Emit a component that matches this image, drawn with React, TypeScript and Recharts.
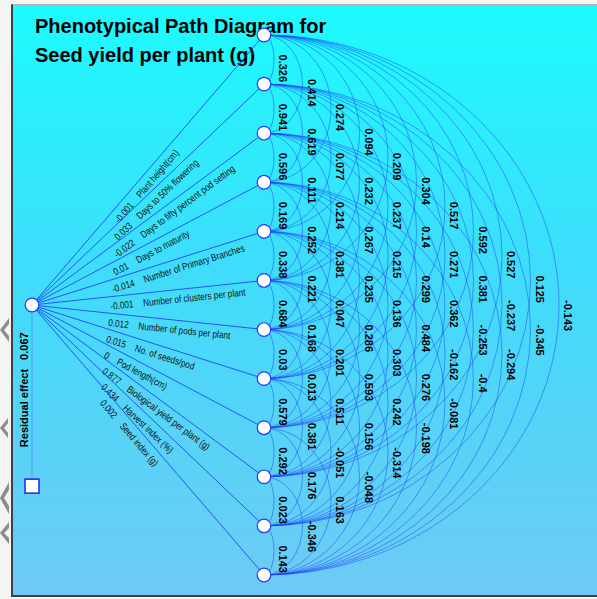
import React from 'react';
import { ScatterChart, Scatter, XAxis, YAxis, ReferenceLine } from 'recharts';

// ---------- data ----------
const traits = [
  'Plant height(cm)',
  'Days to 50% flowering',
  'Days to fifty percent pod setting',
  'Days to maturity',
  'Number of Primary Branches',
  'Number of clusters per plant',
  'Number of pods per plant',
  'No. of seeds/pod',
  'Pod length(cm)',
  'Biological yield per plant (g)',
  'Harvest index (%)',
  'Seed index (g)',
];

// direct effects on seed yield per plant
const directEffects = [-0.001, 0.033, -0.022, 0.01, -0.014, -0.001, 0.012, 0.015, 0, 0.877, 0.434, 0.002];

// upper-triangle correlations: row i holds r(i, j) for j > i
const corrRow1 = [0.326, 0.414, 0.274, 0.094, 0.209, 0.304, 0.517, 0.592, 0.527, 0.125, -0.143];
const corrRow2 = [0.941, 0.619, 0.077, 0.232, 0.237, 0.14, 0.271, 0.381, -0.237, -0.345];
const corrRow3 = [0.596, 0.111, 0.214, 0.267, 0.215, 0.299, 0.362, -0.253, -0.294];
const corrRow4 = [0.169, 0.252, 0.381, 0.235, 0.136, 0.484, -0.162, -0.4];
const corrRow5 = [0.338, 0.221, 0.047, 0.286, 0.303, 0.276, -0.081];
const corrRow6 = [0.684, 0.168, 0.201, 0.593, 0.242, -0.198];
const corrRow7 = [0.03, 0.013, 0.511, 0.156, -0.314];
const corrRow8 = [0.579, 0.381, -0.051, -0.048];
const corrRow9 = [0.292, 0.176, 0.163];
const corrRow10 = [0.023, -0.346];
const corrRow11 = [0.143];
const corrRows = [corrRow1, corrRow2, corrRow3, corrRow4, corrRow5, corrRow6, corrRow7, corrRow8, corrRow9, corrRow10, corrRow11];

const residualEffect = 0.067;
const titleLines = ['Phenotypical Path Diagram for', 'Seed yield per plant (g)'];

// ---------- layout ----------
const W = 597;
const H = 599;
const PX_PER_X = 232; // one x unit = distance source -> node column
const X_MAX = 565 / PX_PER_X;
const SRC_X = 0;
const NODE_X = 1;
const SRC_Y = 5.5;
const SQUARE_Y = 9.19;
const ARC_BASE = 10 / PX_PER_X;
const ARC_STEP = 28.5 / PX_PER_X;

const BLUE = '#1c3ef6';
const FONT = '"Liberation Sans", Arial, Helvetica, sans-serif';

const nodeData = traits.map((t, i) => ({ x: NODE_X, y: i, name: t }));
const sourceData = [{ x: SRC_X, y: SRC_Y }];
const squareData = [{ x: SRC_X, y: SQUARE_Y }];

type Pair = { i: number; j: number; r: number; k: number };
const pairs: Pair[] = [];
corrRows.forEach((row, i) => row.forEach((r, n) => pairs.push({ i, j: i + n + 1, r, k: n + 1 })));

// ---------- shapes ----------
const sourceLineShape = (value: number, name: string) => (p: any) => {
  const { x1, y1, x2, y2 } = p;
  const dx = x2 - x1;
  const dy = y2 - y1;
  const ang = (Math.atan2(dy, dx) * 180) / Math.PI;
  const px = x1 + dx / 3;
  const py = y1 + dy / 3;
  return (
    <g>
      <line x1={x1} y1={y1} x2={x2} y2={y2} stroke={BLUE} strokeWidth={0.85} />
      <g transform={`translate(${px},${py}) rotate(${ang}) scale(0.82,1)`}>
        <text x={0} y={13} fontSize={10} fill="#111" fontFamily={FONT}>
          {String(value)}
          <tspan dx={12}>{name}</tspan>
        </text>
      </g>
    </g>
  );
};

const arcShape = (p: any) => {
  const { x1, y1, x2, y2 } = p;
  const rx = Math.abs(x2 - x1);
  const ry = Math.abs(y2 - y1) / 2;
  return (
    <path
      d={`M${x1},${y1} A${rx},${ry} 0 0 1 ${x1},${y2}`}
      fill="none"
      stroke={BLUE}
      strokeWidth={0.6}
      strokeOpacity={0.8}
    />
  );
};

const arcLabelShape = (r: number) => (p: any) => {
  const { x2, y1, y2 } = p;
  const cx = x2 + 9;
  const cy = (y1 + y2) / 2 - 5;
  return (
    <text
      transform={`translate(${cx},${cy}) rotate(90)`}
      x={0}
      y={4}
      fontSize={11}
      fontWeight="bold"
      fill="#000"
      fontFamily={FONT}
    >
      {String(r)}
    </text>
  );
};

const residualShape = (p: any) => {
  const { x1, y1, x2, y2 } = p;
  return (
    <g>
      <line x1={x1} y1={y1} x2={x2} y2={y2} stroke="#4f9ff5" strokeWidth={1} />
      <text
        transform={`translate(${x1 - 4},${y2 - 39}) rotate(-90)`}
        fontSize={11}
        fontWeight="bold"
        fill="#000"
        fontFamily={FONT}
      >
        Residual effect
        <tspan dx={9}>{String(residualEffect)}</tspan>
      </text>
    </g>
  );
};

const NodeCircle = (p: any) => (
  <circle cx={p.cx} cy={p.cy} r={6.8} fill="#ffffff" stroke={BLUE} strokeWidth={1.2} />
);
const SquareShape = (p: any) => (
  <rect x={p.cx - 7} y={p.cy - 7} width={14} height={14} fill="#ffffff" stroke="#2233ee" strokeWidth={1.6} />
);

export default function App() {
  return (
    <div style={{ position: 'fixed', left: 0, top: 0, width: W, height: H, overflow: 'hidden', background: '#f4f4f4' }}>
      <div
        style={{
          position: 'absolute',
          left: 11,
          top: 4,
          width: W - 11,
          height: 593,
          boxSizing: 'border-box',
          borderLeft: '2px solid #404040',
          borderTop: '1px solid #b0b0b0',
          borderBottom: '2px solid #404040',
          background: 'linear-gradient(to bottom, #1cfbfe 0%, #3fdcfb 45%, #6ecaf4 100%)',
        }}
      />
      <svg width={W} height={H} style={{ position: 'absolute', left: 0, top: 0 }}>
        <g fill="#6a6a6a" opacity={0.75}>
          <polygon points="9,318 0,330 9,342 9,336 4,330 9,324" />
          <polygon points="8,418 0,428 8,438 8,433 4,428 8,423" />
          <polygon points="9,482 0,498 9,514 9,506 4,498 9,490" />
          <polygon points="9,522 0,533 9,544 9,538 4,533 9,528" />
        </g>
        {titleLines.map((t, i) => (
          <text key={t} x={35} y={33 + i * 29} fontSize={20} fontWeight="bold" fill="#000" fontFamily={FONT}>
            {t}
          </text>
        ))}
      </svg>
      <div style={{ position: 'absolute', left: 0, top: 0 }}>
        <ScatterChart width={W} height={H} margin={{ top: 35, right: 0, bottom: 24, left: 32 }}>
          <XAxis type="number" dataKey="x" domain={[0, X_MAX]} hide />
          <YAxis type="number" dataKey="y" domain={[0, 11]} reversed hide />
          {pairs.map((pr) => (
            <ReferenceLine
              key={`arc-${pr.i}-${pr.j}`}
              segment={[
                { x: NODE_X, y: pr.i },
                { x: NODE_X + ARC_BASE + ARC_STEP * (pr.k - 1), y: pr.j },
              ]}
              ifOverflow="visible"
              shape={arcShape}
            />
          ))}
          {traits.map((t, i) => (
            <ReferenceLine
              key={`src-${i}`}
              segment={[
                { x: SRC_X, y: SRC_Y },
                { x: NODE_X, y: i },
              ]}
              ifOverflow="visible"
              shape={sourceLineShape(directEffects[i], t)}
            />
          ))}
          <ReferenceLine
            segment={[
              { x: SRC_X, y: SRC_Y },
              { x: SRC_X, y: SQUARE_Y },
            ]}
            ifOverflow="visible"
            shape={residualShape}
          />
          {pairs.map((pr) => (
            <ReferenceLine
              key={`lab-${pr.i}-${pr.j}`}
              segment={[
                { x: NODE_X, y: pr.i },
                { x: NODE_X + ARC_BASE + ARC_STEP * (pr.k - 1), y: pr.j },
              ]}
              ifOverflow="visible"
              shape={arcLabelShape(pr.r)}
            />
          ))}
          <Scatter data={nodeData} shape={NodeCircle} isAnimationActive={false} />
          <Scatter data={sourceData} shape={NodeCircle} isAnimationActive={false} />
          <Scatter data={squareData} shape={SquareShape} isAnimationActive={false} />
        </ScatterChart>
      </div>
    </div>
  );
}
